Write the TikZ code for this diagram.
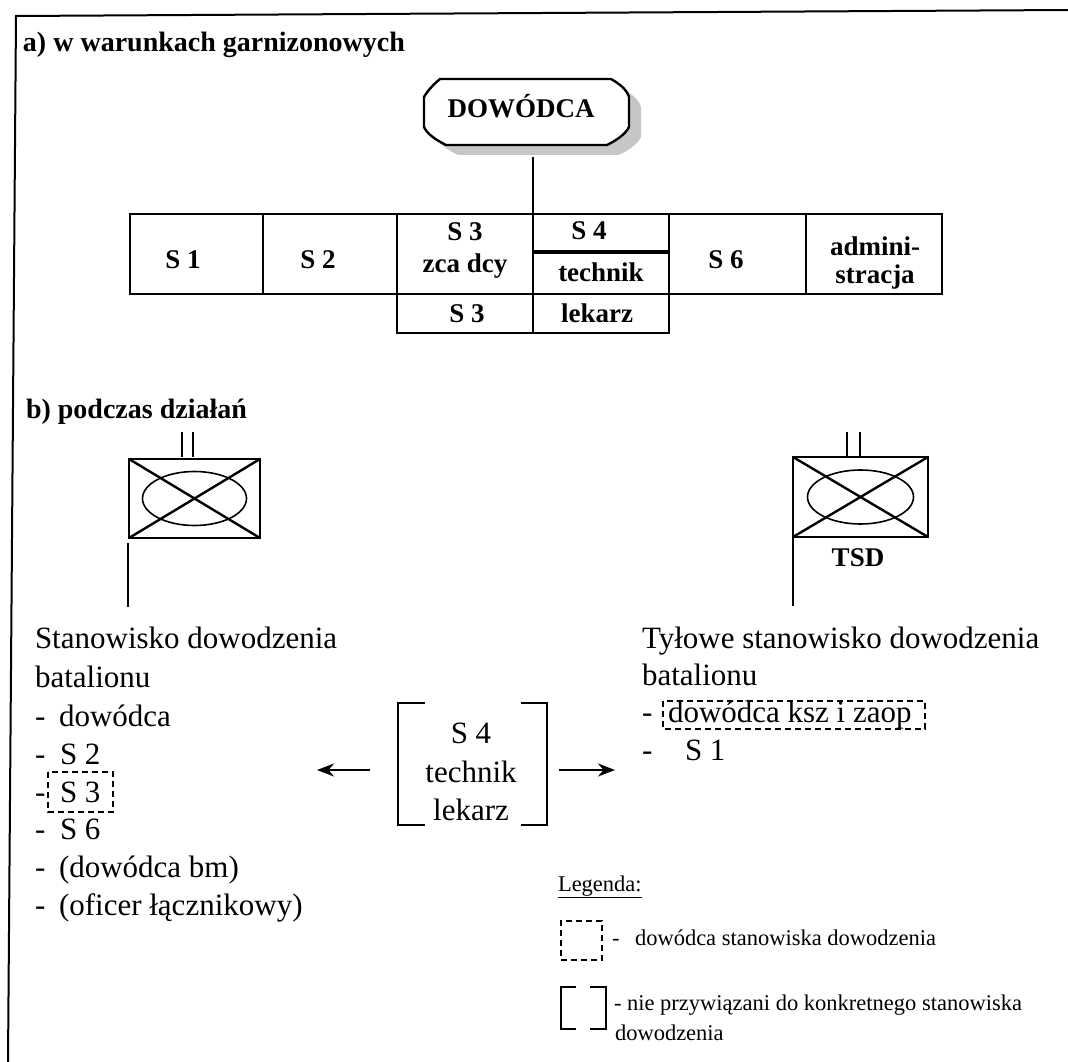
\documentclass[tikz,border=0pt]{standalone}
\usepackage{fontspec}
\setmainfont{Liberation Serif}
\usetikzlibrary{arrows.meta}
\begin{document}
\begin{tikzpicture}[x=1pt,y=-1pt,
  every node/.style={inner sep=0pt, outer sep=0pt},
  head/.style={anchor=base west, font=\fontsize{28}{32}\selectfont\bfseries},
  bold/.style={anchor=base, font=\fontsize{27}{30}\selectfont\bfseries},
  txt/.style={anchor=base west, font=\fontsize{31}{38}\selectfont},
  ctxt/.style={anchor=base, font=\fontsize{31}{38}\selectfont},
  leg/.style={anchor=base west, font=\fontsize{22.5}{28}\selectfont},
  cell/.style={draw, line width=2.4pt, anchor=north west},
  symbox/.style={draw, line width=2.2pt, anchor=north west},
  thin/.style={line width=1.6pt},
  dashbox/.style={draw, line width=1.8pt, dash pattern=on 6pt off 4pt},
  brk/.style={line width=2pt},
  arr/.style={line width=2pt, -{Stealth[length=17pt,width=13pt]}},
]
\useasboundingbox (0,0) rectangle (1068,1062);

% outer frame (top and left edges)
\draw[line width=2pt] (1068,10) -- (16,16) -- (8,1062);

% ---------- a) ----------
\node[head] (ha) at (23,52) {a) w warunkach garnizonowych};

% commander box with shadow
\fill[gray!45] (452,89) -- (623,89) .. controls (632,94) and (639,100) .. (641,107)
  -- (641,137) .. controls (637,145) and (627,151) .. (619,155) -- (458,155)
  .. controls (448,150) and (439,144) .. (436,137) -- (436,107)
  .. controls (440,100) and (446,94) .. (452,89) -- cycle;
\filldraw[fill=white, line width=2.4pt] (440,79) -- (611,79) .. controls (620,84) and (627,90) .. (629,97)
  -- (629,127) .. controls (625,135) and (615,141) .. (607,145) -- (446,145)
  .. controls (436,140) and (427,134) .. (424,127) -- (424,97)
  .. controls (428,90) and (434,84) .. (440,79) -- cycle;
\node[bold] (dow) at (521,118) {DOWÓDCA};
\coordinate (dowfoot) at (533,157);

% staff table, first row
\node[cell, minimum width=133, minimum height=80] (c1) at (130,214) {};
\node[cell, minimum width=134, minimum height=80] (c2) at (263,214) {};
\node[cell, minimum width=136, minimum height=80] (c3) at (397,214) {};
\node[cell, minimum width=136, minimum height=38] (c4) at (533,214) {};
\node[cell, minimum width=136, minimum height=42] (c4b) at (533,252) {};
\node[cell, minimum width=137, minimum height=80] (c6) at (669,214) {};
\node[cell, minimum width=136, minimum height=80] (c7) at (806,214) {};
% second row
\node[cell, minimum width=136, minimum height=39] (r1) at (397,294) {};
\node[cell, minimum width=136, minimum height=39] (r2) at (533,294) {};
\draw[line width=4pt] (c4.south west) -- (c4.south east);

\draw[line width=1.6pt] (dowfoot) -- (c4.north west);

\node[bold] (t1) at (183,268) {S 1};
\node[bold] (t2) at (318,268) {S 2};
\node[bold] (t3a) at (465,240) {S 3};
\node[bold] (t3b) at (465,272) {zca dcy};
\node[bold] (t4a) at (589,239) {S 4};
\node[bold] (t4b) at (601,281) {technik};
\node[bold] (t6) at (726,268) {S 6};
\node[bold] (t7a) at (875,255) {admini-};
\node[bold] (t7b) at (875,283) {stracja};
\node[bold] (t8) at (467,322) {S 3};
\node[bold] (t9) at (597,322) {lekarz};

% ---------- b) ----------
\node[head] (hb) at (26,418) {b) podczas działań};

% command post symbol
\node[symbox, minimum width=131, minimum height=79] (sd) at (129,459) {};
\draw[line width=2.4pt] (sd.north west) -- (sd.south east) (sd.south west) -- (sd.north east);
\draw[thin] (sd.center) ellipse [x radius=52, y radius=27];
\draw[thin] (182,432) -- (182,457) (193,432) -- (193,457);
\draw[line width=2pt] (128,543) -- (128,607);

% rear command post symbol
\node[symbox, minimum width=135, minimum height=80] (tsd) at (793,457) {};
\draw[line width=2.4pt] (tsd.north west) -- (tsd.south east) (tsd.south west) -- (tsd.north east);
\draw[thin] (tsd.center) ellipse [x radius=53, y radius=27];
\draw[thin] (847,432) -- (847,456) (860,432) -- (860,456);
\draw[line width=2pt] (tsd.south west) -- (793,606);
\node[bold] (tsdl) at (858,566) {TSD};

% command post staff
\node[txt] (l0) at (35,648) {Stanowisko dowodzenia};
\node[txt] (l1) at (35,687) {batalionu};
\node[txt] (d2) at (35,726) {-};
\node[txt] (l2) at (59,726) {dowódca};
\node[txt] (d3) at (35,764) {-};
\node[txt] (l3) at (60,764) {S 2};
\node[txt] (d4) at (35,802) {-};
\node[txt] (l4) at (60,802) {S 3};
\draw[dashbox] (48,772) rectangle (113,812);
\node[txt] (d5) at (35,839) {-};
\node[txt] (l5) at (60,839) {S 6};
\node[txt] (d6) at (35,877) {-};
\node[txt] (l6) at (59,877) {(dowódca bm)};
\node[txt] (d7) at (35,915) {-};
\node[txt] (l7) at (59,915) {(oficer łącznikowy)};

% rear command post staff
\node[txt] (r0) at (642,648) {Tyłowe stanowisko dowodzenia};
\node[txt] (r1t) at (642,685) {batalionu};
\node[txt] (e2) at (642,722) {-};
\node[txt] (r2t) at (668,722) {dowódca ksz i zaop};
\draw[dashbox] (663,701) rectangle (925,729);
\node[txt] (e3) at (642,760) {-};
\node[txt] (r3t) at (685,760) {S 1};

% unattached staff in brackets
\node[minimum width=149, minimum height=122] (br) at (472.5,764) {};
\draw[brk] ([xshift=27pt]br.north west) -- (br.north west) -- (br.south west) -- ([xshift=27pt]br.south west);
\draw[brk] ([xshift=-26pt]br.north east) -- (br.north east) -- (br.south east) -- ([xshift=-26pt]br.south east);
\node[ctxt] (b1) at (471,743) {S 4};
\node[ctxt] (b2) at (471,782) {technik};
\node[ctxt] (b3) at (471,820) {lekarz};

\coordinate (la0) at (370,770);
\coordinate (la1) at (317,770);
\coordinate (ra0) at (559,770);
\coordinate (ra1) at (615,770);
\draw[arr] (la0) -- (la1);
\draw[arr] (ra0) -- (ra1);

% legend
\node[leg] (lg) at (558,891) {\underline{Legenda:}};
\node[dashbox, minimum width=41, minimum height=39, anchor=north west] (lgd) at (561,921) {};
\node[leg] (lgd1) at (612,945) {-};
\node[leg] (lgd2) at (635,945) {dowódca stanowiska dowodzenia};
\node[minimum width=45, minimum height=42, anchor=north west] (lgb) at (561,987) {};
\draw[brk] ([xshift=15pt]lgb.north west) -- (lgb.north west) -- (lgb.south west) -- ([xshift=15pt]lgb.south west);
\draw[brk] ([xshift=-16pt]lgb.north east) -- (lgb.north east) -- (lgb.south east) -- ([xshift=-16pt]lgb.south east);
\node[leg] (lgb1) at (614,1010) {- nie przywiązani do konkretnego stanowiska};
\node[leg] (lgb2) at (615,1040) {dowodzenia};
\end{tikzpicture}
\end{document}
